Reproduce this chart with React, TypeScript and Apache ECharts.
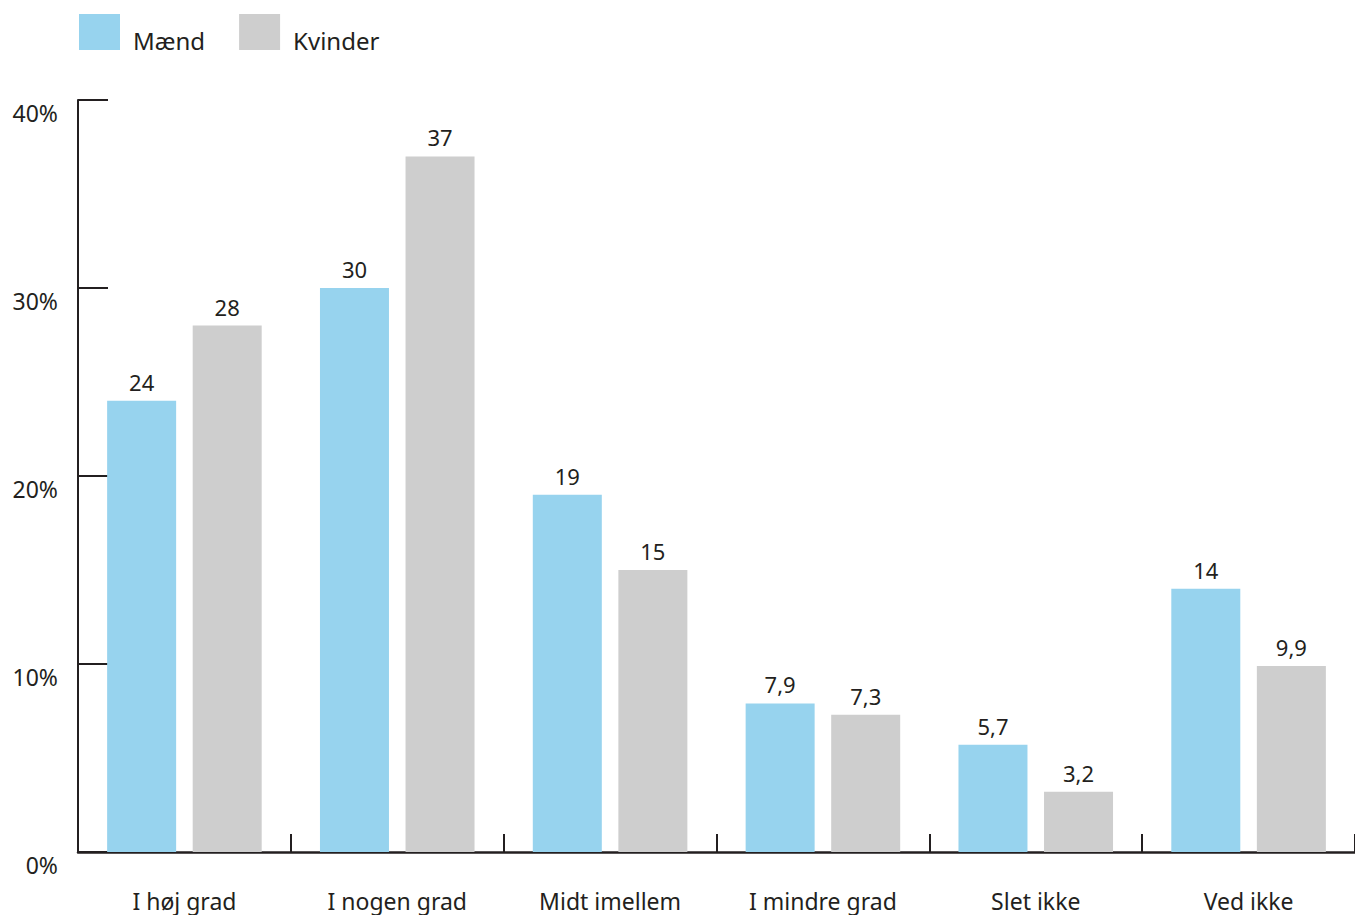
import React, { useEffect, useRef } from "react";
import * as echarts from "echarts";

const categories = ["I høj grad", "I nogen grad", "Midt imellem", "I mindre grad", "Slet ikke", "Ved ikke"];
const maend = [24, 30, 19, 7.9, 5.7, 14];
const kvinder = [28, 37, 15, 7.3, 3.2, 9.9];
const yTicks = [0, 10, 20, 30, 40];

const FONT = "'Noto Sans', 'Open Sans', sans-serif";
const DARK = "#231f20";

export default function App() {
  const ref = useRef<HTMLDivElement>(null);
  useEffect(() => {
    if (!ref.current) return;
    const chart = echarts.init(ref.current, null, { renderer: "svg" });
    const fmt = (p: any) => String(p.value).replace(".", ",");
    chart.setOption({
      animation: false,
      textStyle: { fontFamily: FONT },
      legend: {
        left: 79,
        top: 14,
        padding: 0,
        itemWidth: 41,
        itemHeight: 36,
        itemGap: 34,
        icon: "rect",
        formatter: "{t|{name}}",
        textStyle: {
          fontSize: 24,
          color: DARK,
          fontFamily: FONT,
          rich: { t: { fontSize: 24, color: DARK, fontFamily: FONT, padding: [16, 0, 0, 8] } },
        },
        data: ["Mænd", "Kvinder"],
      },
      grid: { left: 78, width: 1282, top: 100, bottom: 63, containLabel: false },
      xAxis: {
        type: "category",
        data: categories,
        axisLine: { lineStyle: { color: DARK, width: 2.5 } },
        axisTick: { show: true, inside: true, length: 18, lineStyle: { color: DARK, width: 2 } },
        axisLabel: { fontSize: 23, color: DARK, margin: 37, fontFamily: FONT },
      },
      yAxis: {
        type: "value",
        min: yTicks[0],
        max: yTicks[yTicks.length - 1],
        interval: 10,
        splitLine: { show: false },
        axisLine: { show: true, lineStyle: { color: DARK, width: 2 } },
        axisTick: { show: true, inside: true, length: 30, lineStyle: { color: DARK, width: 2 } },
        axisLabel: {
          fontSize: 23,
          color: DARK,
          margin: 20,
          verticalAlign: "top",
          padding: [1, 0, 0, 0],
          fontFamily: FONT,
          formatter: (v: number) => v + "%",
        },
      },
      series: [
        {
          name: "Mænd",
          type: "bar",
          data: maend,
          barWidth: 69,
          barGap: "24%",
          itemStyle: { color: "#97d3ee" },
          label: { show: true, position: "top", distance: 8, fontSize: 22, color: DARK, fontFamily: FONT, formatter: fmt },
        },
        {
          name: "Kvinder",
          type: "bar",
          data: kvinder,
          barWidth: 69,
          barGap: "24%",
          itemStyle: { color: "#cecece" },
          label: { show: true, position: "top", distance: 8, fontSize: 22, color: DARK, fontFamily: FONT, formatter: fmt },
        },
      ],
    });
    return () => chart.dispose();
  }, []);
  return <div ref={ref} style={{ position: "fixed", left: 0, top: 0, width: 1355, height: 915, background: "#fff" }} />;
}
